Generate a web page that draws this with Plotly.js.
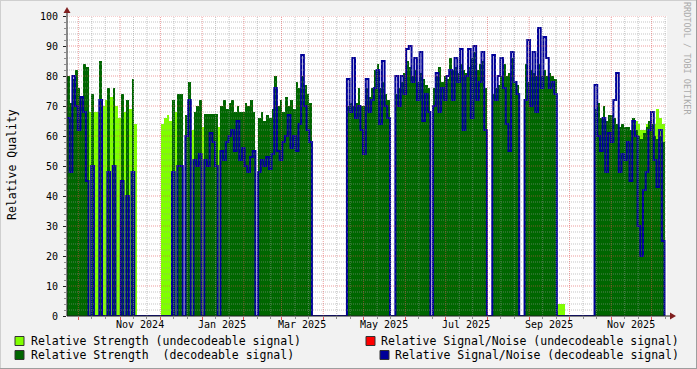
<!DOCTYPE html>
<html><head><meta charset="utf-8">
<script src="https://cdn.plot.ly/plotly-3.0.1.min.js"></script>
<style>html,body{margin:0;padding:0;background:#f2f2f2;}#chart{width:697px;height:369px;}</style>
</head><body><div id="chart"></div>
<script>
// ---- data (one sample per 2 days, starting at startDate) ----
const startDate = '2024-09-22T14:00:00Z';
const stepDays = 2;
const strengthDecodeable = [
80,71,79,82,76,73,84,83,null,74, null,null,85,null,null,76,null,76,null,null,
74,null,72,null,79,null,null,null,null,null, null,null,null,null,null,null,null,null,null,72,
null,74,74,null,67,78,null,68,70,72, null,67.5,67.5,67.5,67.5,67.5,null,70,72,69,
71,72,68,70,68,68,71,70,72,68, null,66,68,65,67,66,69,80,70,72,
68,73,70,72,69,78,76,80,77,74, 71,null,null,null,null,null,null,null,null,null,
null,null,null,null,70,71,70,71,76,70, 70,76,73,76,82,84,76,78,74,72,
null,null,74,76,78,81,85,83,80,82, 78,81,79,77,76,null,76,80,83,78,
80,79,86,82,83,81,84,82,81,83, 86,88,82,84,85,76,null,null,74,76,
77,80,84,80,81,86,78,77,null,null, 84,78,82,81,80,84,80,82,80,81,
80,79,null,null,null,null,null,null,null,null, null,null,null,null,null,null,69,71,66,70,
65,67,67,66,64,63,64,63,63,62, 66,62,60,59,61,63,65,64,60,59,
60,58,null
];
const strengthUndecodeable = [
null,null,null,null,null,null,null,null,68,null, 68,68,null,70,72,null,73,null,70,66,
null,68,null,69,null,64,null,null,null,null, null,null,null,null,null,64,66,67,65,null,
68,null,null,null,null,null,62,null,null,null, 63,null,null,null,null,null,63,null,null,null,
null,null,null,null,null,null,null,null,null,null, null,null,null,null,null,null,null,null,null,null,
null,null,null,null,null,null,null,null,null,null, null,null,null,null,null,null,null,null,null,null,
null,null,null,null,null,null,null,null,null,null, null,null,null,null,null,null,null,null,null,null,
null,null,null,null,null,null,null,null,null,null, null,null,null,null,null,null,null,null,null,null,
null,null,null,null,null,null,null,null,null,null, null,null,null,null,null,null,null,null,null,null,
null,null,null,null,null,null,null,null,null,null, null,null,null,null,null,null,null,null,null,null,
null,null,4,4,4,null,null,null,null,null, null,null,null,null,null,null,null,null,null,null,
null,null,null,null,null,null,null,null,null,null, null,65,64,62,62,64,null,null,64,69,
66,64,null
];
const signalNoiseDecodeable = [
66,48,80,70,62,73,68,45,0,50, 0,0,72,0,0,48,0,50,0,0,
45,0,40,0,48,0,0,0,0,0, 0,0,0,0,0,0,0,0,0,48,
0,50,50,0,60,72,0,52,50,54, 0,52,50,61,58,50,0,55,52,58,
60,62,55,65,52,56,50,48,53,55, 0,48,52,50,53,49,54,76,55,52,
58,60,67,56,60,55,64,87,70,62, 58,0,0,0,0,0,0,0,0,0,
0,0,0,0,79,68,86,66,70,62, 54,79,68,72,76,82,64,85,70,66,
0,0,80,70,80,74,89,90,78,86, 72,88,65,74,68,0,70,81,68,76,
72,80,82,72,86,78,89,62,80,89, 66,90,72,78,88,62,0,0,87,72,
80,86,76,64,55,88,78,74,0,0, 72,92,70,88,68,96,76,93,86,76,
78,74,0,0,0,0,0,0,0,0, 0,0,0,0,0,0,77,60,55,66,
48,61,58,72,81,48,54,52,58,45, 65,60,30,20,42,48,62,68,52,43,
62,25,0
];
const monthStarts = ['2024-10-01','2024-11-01','2024-12-01','2025-01-01','2025-02-01','2025-03-01','2025-04-01',
  '2025-05-01','2025-06-01','2025-07-01','2025-08-01','2025-09-01','2025-10-01','2025-11-01','2025-12-01'];
const monthLabels = ['Nov 2024','Jan 2025','Mar 2025','May 2025','Jul 2025','Sep 2025','Nov 2025'];
const monthLabelDates = ['2024-11-16','2025-01-16','2025-03-16','2025-05-16','2025-07-16','2025-09-16','2025-11-16'];
const yTicks = [0,10,20,30,40,50,60,70,80,90,100];
const legendLabels = ['Relative Strength (undecodeable signal)','Relative Signal/Noise (undecodeable signal)',
  'Relative Strength \u00a0(decodeable signal)','Relative Signal/Noise (decodeable signal)'];

// ---- colours / geometry ----
const C_LIGHT='#80ff00', C_DARK='#006600', C_BLUE='#000099', C_RED='#ff0000';
const FONT='DejaVu Sans Mono';
const L=67, T=16, PW=600, PH=300;
const px = x => (x-L)/PW;
const py = y => (T+PH-y)/PH;
const DAY=864e5;
const t0=Date.parse(startDate);
const fmt = ms => new Date(ms).toISOString().slice(0,19).replace('T',' ');
const barX = strengthDecodeable.map((_,i)=>fmt(t0+(i*stepDays+stepDays/2)*DAY));
const lineX = signalNoiseDecodeable.map((_,i)=>fmt(t0+i*stepDays*DAY));

const traces = [
  {type:'bar', x:barX, y:strengthUndecodeable, width:stepDays*DAY, marker:{color:C_LIGHT, line:{width:0}}, hoverinfo:'skip'},
  {type:'bar', x:barX, y:strengthDecodeable, width:stepDays*DAY, marker:{color:C_DARK, line:{width:0}}, hoverinfo:'skip'},
  {type:'scatter', mode:'lines', x:lineX, y:signalNoiseDecodeable, line:{color:C_BLUE, width:2, shape:'hv'}, hoverinfo:'skip'}
];

// minor x grid days 11, 21
const minorX=[];
['2024-09','2024-10','2024-11','2024-12','2025-01','2025-02','2025-03','2025-04','2025-05','2025-06','2025-07','2025-08','2025-09','2025-10','2025-11','2025-12']
 .forEach(m=>{minorX.push(m+'-11'); minorX.push(m+'-21');});
const xRange=['2024-09-22 14:00','2025-12-12 10:00'];
const inRange = d => Date.parse(d+'T00:00:00Z')>Date.parse('2024-09-22T14:00:00Z') && Date.parse(d+'T00:00:00Z')<Date.parse('2025-12-12T10:00:00Z');

const GRID='rgba(150,150,150,0.55)', MGRID='rgba(222,79,79,0.55)';
const shapes=[];
for(let v=2; v<=100; v+=2){
  shapes.push({type:'line', layer:'above', xref:'paper', yref:'y', x0:0, x1:1, y0:v, y1:v,
    line:{color: v%10===0?MGRID:GRID, width:1, dash:'1px,1px'}});
}
minorX.filter(inRange).forEach(d=>shapes.push({type:'line', layer:'above', xref:'x', yref:'paper', x0:d, x1:d, y0:0, y1:1,
  line:{color:GRID, width:1, dash:'1px,1px'}}));
monthStarts.filter(inRange).forEach(d=>shapes.push({type:'line', layer:'above', xref:'x', yref:'paper', x0:d, x1:d, y0:0, y1:1,
  line:{color:MGRID, width:1, dash:'1px,1px'}}));
// axes
shapes.push({type:'line', layer:'above', xref:'paper', yref:'paper', x0:0, x1:0, y0:0, y1:py(11), line:{color:'#1f1f1f', width:1}});
shapes.push({type:'line', layer:'above', xref:'paper', yref:'paper', x0:0, x1:px(672), y0:0, y1:0, line:{color:'#1f1f1f', width:1}});
// arrows
shapes.push({type:'path', layer:'above', xref:'paper', yref:'paper',
  path:`M ${px(67)} ${py(7)} L ${px(63.5)} ${py(13)} L ${px(70.5)} ${py(13)} Z`, fillcolor:'#801f1f', line:{width:0}});
shapes.push({type:'path', layer:'above', xref:'paper', yref:'paper',
  path:`M ${px(676)} ${py(316)} L ${px(670)} ${py(312.5)} L ${px(670)} ${py(319.5)} Z`, fillcolor:'#801f1f', line:{width:0}});
// legend boxes
const boxes=[[15,341,C_LIGHT],[366,341,C_RED],[15,355,C_DARK],[380,355,C_BLUE]];
boxes.forEach(b=>shapes.push({type:'rect', xref:'paper', yref:'paper', x0:px(b[0]), x1:px(b[0]+9), y0:py(b[1]-4.5), y1:py(b[1]+4.5),
  fillcolor:b[2], line:{color:'#333', width:1}}));
// frame
shapes.push({type:'line', xref:'paper', yref:'paper', x0:px(0), x1:px(697), y0:py(0.5), y1:py(0.5), line:{color:'#cfcfcf', width:1}});
shapes.push({type:'line', xref:'paper', yref:'paper', x0:px(0.5), x1:px(0.5), y0:py(0), y1:py(369), line:{color:'#cfcfcf', width:1}});
shapes.push({type:'line', xref:'paper', yref:'paper', x0:px(0), x1:px(697), y0:py(368.5), y1:py(368.5), line:{color:'#9e9e9e', width:1}});
shapes.push({type:'line', xref:'paper', yref:'paper', x0:px(696.5), x1:px(696.5), y0:py(0), y1:py(369), line:{color:'#9e9e9e', width:1}});

const annotations=[];
monthLabels.forEach((t,i)=>annotations.push({text:t, xref:'x', yref:'paper', x:monthLabelDates[i], y:py(324.5),
  xanchor:'center', yanchor:'middle', showarrow:false, font:{family:FONT, size:10, color:'#000'}}));
annotations.push({text:'Relative Quality', xref:'paper', yref:'paper', x:px(12), y:py(165), textangle:-90,
  xanchor:'center', yanchor:'middle', showarrow:false, font:{family:FONT, size:11.5, color:'#000'}});
annotations.push({text:'RRDTOOL / TOBI OETIKER', xref:'paper', yref:'paper', x:px(687), y:py(58), textangle:90,
  xanchor:'center', yanchor:'middle', showarrow:false, font:{family:FONT, size:8.5, color:'#aaaaaa'}});
const legPos=[[29,341],[379,341],[29,355],[393,355]];
legendLabels.forEach((t,i)=>annotations.push({text:t, xref:'paper', yref:'paper', x:px(legPos[i][0]), y:py(legPos[i][1]),
  xanchor:'left', yanchor:'middle', showarrow:false, font:{family:FONT, size:11.5, color:'#000'}}));

const layout={
  width:697, height:369, margin:{l:67, r:30, t:16, b:53, pad:0},
  paper_bgcolor:'#f2f2f2', plot_bgcolor:'#ffffff', showlegend:false,
  barmode:'overlay', bargap:0,
  xaxis:{type:'date', range:xRange, showgrid:false, zeroline:false, showline:false,
    tickvals:monthStarts, ticktext:monthStarts.map(()=>''), ticks:'outside', ticklen:3, tickcolor:'#de4f4f', tickwidth:1,
    minor:{tickvals:minorX, ticks:'outside', ticklen:2, tickcolor:'#8f8f8f', showgrid:false}, fixedrange:true},
  yaxis:{range:[0,100], showgrid:false, zeroline:false, showline:false, tickvals:yTicks, ticktext:yTicks.map(String),
    ticks:'outside', ticklen:3, tickcolor:'#1f1f1f', ticklabelstandoff:3,
    tickfont:{family:FONT, size:10, color:'#000'},
    minor:{dtick:2, ticks:'outside', ticklen:2, tickcolor:'#8f8f8f', showgrid:false}, fixedrange:true},
  shapes:shapes, annotations:annotations
};
Plotly.newPlot('chart', traces, layout, {staticPlot:true, displayModeBar:false});
</script></body></html>
